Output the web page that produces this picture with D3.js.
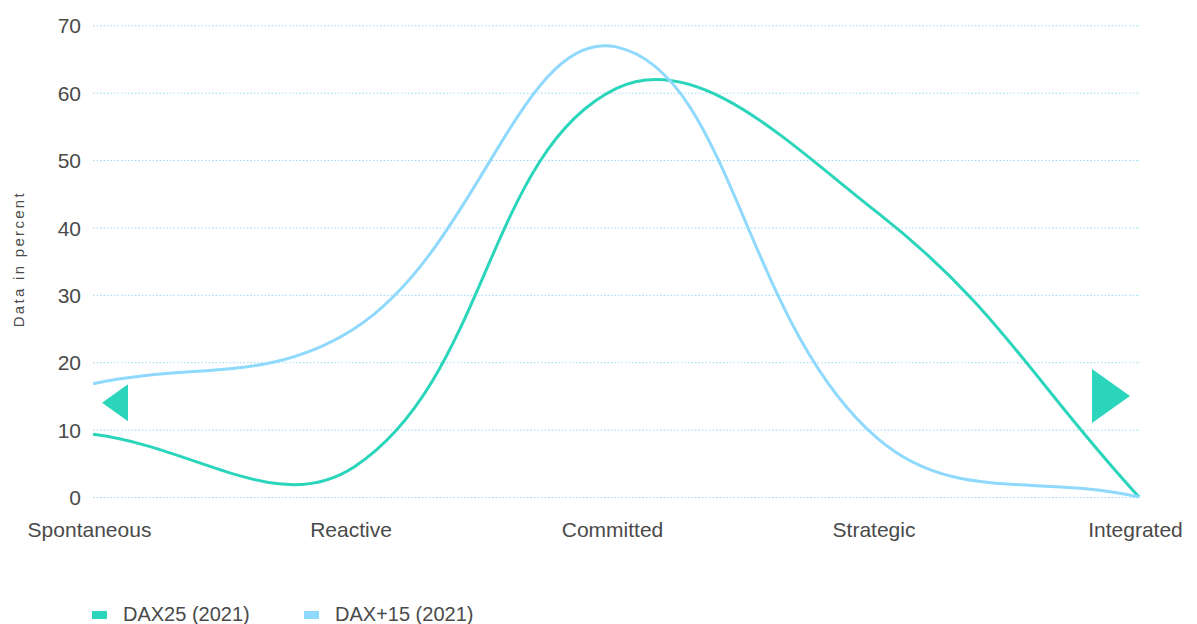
<!DOCTYPE html>
<html>
<head>
<meta charset="utf-8">
<script src="https://cdn.jsdelivr.net/npm/d3@7"></script>
<style>
  html, body { margin: 0; padding: 0; background: #ffffff; }
  svg { display: block; font-family: "Liberation Sans", Arial, Helvetica, sans-serif; }
  .tick text { fill: #4a4a4a; font-size: 21px; }
  .grid .tick line { stroke: #9ad9f5; stroke-width: 1; stroke-dasharray: 1.5 2; }
</style>
</head>
<body>
<svg id="chart" width="1197" height="624"></svg>
<script>
// Maturity stages on the x axis
const categories = ["Spontaneous", "Reactive", "Committed", "Strategic", "Integrated"];
// Share of companies per stage, in percent
const dax25 = [9.3, 4.5, 60.6, 42.2, 0];
const daxPlus15 = [16.8, 25, 66.8, 8.7, 0];
// Series names for the legend
const seriesNames = ["DAX25 (2021)", "DAX+15 (2021)"];
// Y axis tick values
const yTicks = [0, 10, 20, 30, 40, 50, 60, 70];

const colors = ["#2bd5bb", "#8fd9fd"];

const svg = d3.select("#chart");
const plot = { left: 93, right: 1139, top: 25.3, bottom: 497 };

const x = d3.scalePoint().domain(categories).range([plot.left, plot.right]);
const y = d3.scaleLinear().domain([0, 70]).range([plot.bottom, plot.top]);

// Spline with distance-weighted tangents (tension 0.4)
function tensionSpline(tension) {
  return function (context) {
    return {
      _pts: [],
      areaStart() {}, areaEnd() {},
      lineStart() { this._pts = []; },
      point(px, py) { this._pts.push({ x: +px, y: +py }); },
      lineEnd() {
        const p = this._pts, n = p.length;
        if (!n) return;
        for (let i = 0; i < n; i++) {
          const prev = p[Math.max(i - 1, 0)], cur = p[i], next = p[Math.min(i + 1, n - 1)];
          const d01 = Math.hypot(cur.x - prev.x, cur.y - prev.y);
          const d12 = Math.hypot(next.x - cur.x, next.y - cur.y);
          let s01 = d01 / (d01 + d12), s12 = d12 / (d01 + d12);
          if (isNaN(s01)) s01 = 0;
          if (isNaN(s12)) s12 = 0;
          const fa = tension * s01, fb = tension * s12;
          cur.cpPrev = { x: cur.x - fa * (next.x - prev.x), y: cur.y - fa * (next.y - prev.y) };
          cur.cpNext = { x: cur.x + fb * (next.x - prev.x), y: cur.y + fb * (next.y - prev.y) };
        }
        context.moveTo(p[0].x, p[0].y);
        for (let i = 1; i < n; i++) {
          const a = p[i - 1], b = p[i];
          context.bezierCurveTo(a.cpNext.x, a.cpNext.y, b.cpPrev.x, b.cpPrev.y, b.x, b.y);
        }
      }
    };
  };
}

// Dotted horizontal grid with value labels
const yAxis = svg.append("g")
  .attr("class", "grid")
  .attr("transform", `translate(${plot.left},0)`)
  .call(d3.axisLeft(y).tickValues(yTicks).tickSize(-(plot.right - plot.left + 1)).tickPadding(12));
yAxis.select(".domain").remove();
yAxis.selectAll(".tick text").attr("dy", "0.36em");

// Category labels
const xAxis = svg.append("g")
  .attr("transform", `translate(0,${plot.bottom})`)
  .call(d3.axisBottom(x).tickSize(0).tickPadding(25));
xAxis.select(".domain").remove();
xAxis.selectAll(".tick text").attr("dx", -4);

// Axis title
svg.append("text")
  .attr("transform", `translate(24,${(plot.top + plot.bottom) / 2 - 2}) rotate(-90)`)
  .attr("text-anchor", "middle")
  .attr("fill", "#4a4a4a")
  .style("font-size", "15px")
  .style("letter-spacing", "2.3px")
  .text("Data in percent");

// Direction markers beside the first and last stage
const x0 = x(categories[0]), xN = x(categories[categories.length - 1]);
const leftMarker = d3.path();
leftMarker.moveTo(x0 + 9, y(14));
leftMarker.lineTo(x0 + 35, y(14) - 18.5);
leftMarker.lineTo(x0 + 35, y(14) + 18.5);
leftMarker.closePath();
const rightMarker = d3.path();
rightMarker.moveTo(xN - 9, y(15));
rightMarker.lineTo(xN - 47, y(15) - 27);
rightMarker.lineTo(xN - 47, y(15) + 27);
rightMarker.closePath();
svg.append("g").selectAll("path")
  .data([leftMarker, rightMarker])
  .join("path")
  .attr("d", d => d.toString())
  .attr("fill", colors[0]);

// Series lines
const series = [dax25, daxPlus15];
const line = d3.line()
  .x((d, i) => x(categories[i]))
  .y(d => y(d))
  .curve(tensionSpline(0.4));

svg.append("g").selectAll("path.series")
  .data(series)
  .join("path")
  .attr("class", "series")
  .attr("fill", "none")
  .attr("stroke", (d, i) => colors[i])
  .attr("stroke-width", 3)
  .attr("stroke-linejoin", "round")
  .attr("d", d => line(d));

// Legend
const legendX = [92, 304];
const legend = svg.append("g").selectAll("g")
  .data(seriesNames)
  .join("g")
  .attr("transform", (d, i) => `translate(${legendX[i]},621)`);
legend.append("rect")
  .attr("x", 0).attr("y", -10)
  .attr("width", 15).attr("height", 8)
  .attr("fill", (d, i) => colors[i]);
legend.append("text")
  .attr("x", 31)
  .attr("fill", "#4a4a4a")
  .style("font-size", "20px")
  .text(d => d);
</script>
</body>
</html>
